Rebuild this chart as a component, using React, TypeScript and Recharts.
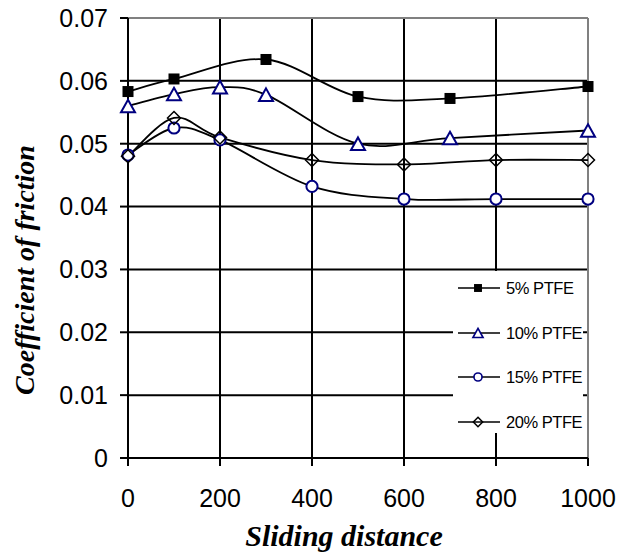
import React from 'react';
import {
  LineChart,
  Line,
  XAxis,
  YAxis,
  CartesianGrid,
  ReferenceLine,
  Legend,
  Label,
} from 'recharts';

// Sliding distance (x) and coefficient of friction (y) for each PTFE content
const dist5 = [0, 100, 300, 500, 700, 1000];
const cof5 = [0.0583, 0.0603, 0.0634, 0.0575, 0.0572, 0.0591];

const dist10 = [0, 100, 200, 300, 500, 700, 1000];
const cof10 = [0.056, 0.0579, 0.059, 0.0578, 0.05, 0.0509, 0.0521];

const dist15 = [0, 100, 200, 400, 600, 800, 1000];
const cof15 = [0.0482, 0.0525, 0.0506, 0.0432, 0.0412, 0.0412, 0.0412];

const dist20 = [0, 100, 200, 400, 600, 800, 1000];
const cof20 = [0.048, 0.0541, 0.051, 0.0474, 0.0467, 0.0474, 0.0474];

const seriesNames = ['5% PTFE', '10% PTFE', '15% PTFE', '20% PTFE'];

const xTicks = [0, 200, 400, 600, 800, 1000];
const yTicks = [0, 0.01, 0.02, 0.03, 0.04, 0.05, 0.06, 0.07];
const xGrid = [200, 400, 600, 800];
const yGrid = [0.01, 0.02, 0.03, 0.04, 0.05, 0.06];

type Shape = 'square' | 'triangle' | 'circle' | 'diamond';

const toRows = (xs: number[], ys: number[]) =>
  xs.map((d, i) => ({ distance: d, cof: ys[i] }));

const SERIES: { name: string; rows: { distance: number; cof: number }[]; shape: Shape }[] = [
  { name: seriesNames[0], rows: toRows(dist5, cof5), shape: 'square' },
  { name: seriesNames[1], rows: toRows(dist10, cof10), shape: 'triangle' },
  { name: seriesNames[2], rows: toRows(dist15, cof15), shape: 'circle' },
  { name: seriesNames[3], rows: toRows(dist20, cof20), shape: 'diamond' },
];

const NAVY = '#000080';
const SANS = 'Arial, "Liberation Sans", sans-serif';
const SERIF = '"Times New Roman", "Liberation Serif", serif';

// Smoothed line through every point (uniform Catmull-Rom as cubic Béziers)
const smoothCurve = (ctx: any) => {
  let pts: number[][] = [];
  return {
    areaStart() {},
    areaEnd() {},
    lineStart() {
      pts = [];
    },
    point(x: number, y: number) {
      pts.push([+x, +y]);
    },
    lineEnd() {
      if (!pts.length) return;
      ctx.moveTo(pts[0][0], pts[0][1]);
      for (let i = 0; i < pts.length - 1; i++) {
        const p0 = pts[Math.max(i - 1, 0)];
        const p1 = pts[i];
        const p2 = pts[i + 1];
        const p3 = pts[Math.min(i + 2, pts.length - 1)];
        ctx.bezierCurveTo(
          p1[0] + (p2[0] - p0[0]) / 6,
          p1[1] + (p2[1] - p0[1]) / 6,
          p2[0] - (p3[0] - p1[0]) / 6,
          p2[1] - (p3[1] - p1[1]) / 6,
          p2[0],
          p2[1]
        );
      }
    },
  };
};

function MarkerShape({ shape, cx, cy, k = 1 }: { shape: Shape; cx: number; cy: number; k?: number }) {
  switch (shape) {
    case 'square': {
      const h = 5.5 * k;
      return <rect x={cx - h} y={cy - h} width={2 * h} height={2 * h} fill="#000" />;
    }
    case 'triangle': {
      const w = 7 * k;
      const h = 6.3 * k;
      return (
        <path
          d={`M${cx},${cy - h}L${cx + w},${cy + h}L${cx - w},${cy + h}Z`}
          fill="#fff"
          stroke={NAVY}
          strokeWidth={2 * Math.min(1, k + 0.1)}
          strokeLinejoin="miter"
        />
      );
    }
    case 'circle':
      return <circle cx={cx} cy={cy} r={5.6 * k} fill="#fff" stroke={NAVY} strokeWidth={2 * Math.min(1, k + 0.1)} />;
    case 'diamond': {
      const d = 6.5 * k;
      return (
        <path
          d={`M${cx},${cy - d}L${cx + d},${cy}L${cx},${cy + d}L${cx - d},${cy}Z`}
          fill="none"
          stroke="#000"
          strokeWidth={1.5}
        />
      );
    }
  }
  return null;
}

const dotRenderer = (shape: Shape) => (props: any) => {
  const { cx, cy, index } = props;
  if (cx == null || cy == null) return <g key={`m-${shape}-${index}`} />;
  return (
    <g key={`m-${shape}-${index}`}>
      <MarkerShape shape={shape} cx={cx} cy={cy} />
    </g>
  );
};

function LegendBox() {
  return (
    <div style={{ width: '100%', height: '100%', background: '#fff', overflow: 'hidden', position: 'relative' }}>
      {SERIES.map((s, i) => (
        <div
          key={s.name}
          style={{
            position: 'absolute',
            left: 5,
            top: 6 + i * 44.7,
            height: 22,
            display: 'flex',
            alignItems: 'center',
            whiteSpace: 'nowrap',
          }}
        >
          <svg width={48} height={22} style={{ display: 'block' }}>
            <line x1={0} y1={11} x2={42} y2={11} stroke="#000" strokeWidth={1.6} />
            <MarkerShape shape={s.shape} cx={20} cy={11} k={0.72} />
          </svg>
          <span
            style={{
              fontFamily: SANS,
              fontSize: 16.5,
              letterSpacing: -0.45,
              color: '#000',
              lineHeight: '22px',
            }}
          >
            {s.name}
          </span>
        </div>
      ))}
    </div>
  );
}

export default function App() {
  return (
    <div style={{ position: 'absolute', left: 0, top: 0, width: 637, height: 556, background: '#fff' }}>
      <LineChart width={637} height={556} margin={{ top: 18, right: 49, bottom: 0, left: 0 }}>
        <CartesianGrid
          horizontalValues={yGrid}
          verticalValues={xGrid}
          stroke="#000"
          strokeWidth={2}
          strokeDasharray=""
        />
        <XAxis
          type="number"
          dataKey="distance"
          domain={[0, 1000]}
          ticks={xTicks}
          allowDuplicatedCategory={false}
          height={98}
          tickSize={8}
          tickMargin={23}
          axisLine={{ stroke: '#000', strokeWidth: 2 }}
          tickLine={{ stroke: '#000', strokeWidth: 2 }}
          tick={{ fill: '#000', fontSize: 25, fontFamily: SANS }}
          interval={0}
        >
          <Label
            content={({ viewBox }: any) => (
              <text
                x={viewBox.x + viewBox.width / 2 - 14}
                y={viewBox.y + viewBox.height - 10}
                textAnchor="middle"
                fontFamily={SERIF}
                fontWeight="bold"
                fontStyle="italic"
                fontSize={30}
                fill="#000"
              >
                Sliding distance
              </text>
            )}
          />
        </XAxis>
        <YAxis
          type="number"
          domain={[0, 0.07]}
          ticks={yTicks}
          width={128}
          tickSize={8}
          tickMargin={12}
          axisLine={{ stroke: '#000', strokeWidth: 2 }}
          tickLine={{ stroke: '#000', strokeWidth: 2 }}
          tick={{ fill: '#000', fontSize: 25, fontFamily: SANS }}
          tickFormatter={(v: number) => (v === 0 ? '0' : v.toFixed(2))}
          interval={0}
        >
          <Label
            content={({ viewBox }: any) => {
              const cx = 24;
              const cy = viewBox.y + viewBox.height / 2 + 32;
              return (
                <text
                  x={cx}
                  y={cy}
                  transform={`rotate(-90, ${cx}, ${cy})`}
                  textAnchor="middle"
                  dominantBaseline="central"
                  fontFamily={SERIF}
                  fontWeight="bold"
                  fontStyle="italic"
                  fontSize={28}
                  fill="#000"
                >
                  Coefficient of friction
                </text>
              );
            }}
          />
        </YAxis>
        <ReferenceLine y={0.07} stroke="#808080" strokeWidth={2} ifOverflow="visible" />
        <ReferenceLine x={1000} stroke="#808080" strokeWidth={2} ifOverflow="visible" />
        {SERIES.map((s) => (
          <Line
            key={s.name}
            name={s.name}
            data={s.rows}
            dataKey="cof"
            type={smoothCurve as any}
            stroke="#000"
            strokeWidth={1.8}
            dot={dotRenderer(s.shape)}
            activeDot={false}
            isAnimationActive={false}
            legendType="none"
          />
        ))}
        <Legend
          layout="vertical"
          align="center"
          verticalAlign="middle"
          content={() => <LegendBox />}
          wrapperStyle={{ left: 453, top: 271, width: 130, height: 162, margin: 0, padding: 0 }}
        />
      </LineChart>
    </div>
  );
}
